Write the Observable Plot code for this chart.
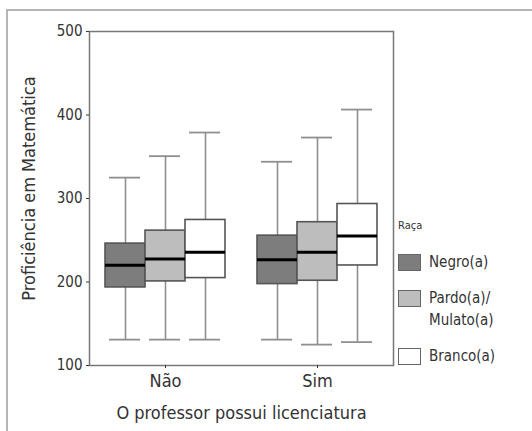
<!DOCTYPE html>
<html><head><meta charset="utf-8">
<script src="https://cdn.jsdelivr.net/npm/d3@7"></script>
<script src="https://cdn.jsdelivr.net/npm/@observablehq/plot@0.6"></script>
<style>
body{margin:0;background:#fff;font-family:"Liberation Sans Narrow","DejaVu Sans Condensed","Roboto",sans-serif;}
#wrap{position:relative;width:532px;height:431px;overflow:hidden;background:#fff;}
#border{position:absolute;left:6px;top:9px;width:800px;height:800px;border-left:2px solid #b5b5b5;border-top:2px solid #b5b5b5;}
#chart{position:absolute;left:0;top:0;}
#legend{position:absolute;left:398px;top:219px;color:#333;}
#legend .title{font-size:11px;margin-bottom:22px;margin-left:0px;}
#legend .row{display:flex;align-items:flex-start;margin-bottom:17px;}
#legend .sw{width:21px;height:15px;border:1.5px solid #666;margin-right:8px;flex:none;}
#legend .lab{font-size:15px;line-height:22px;margin-top:-3px;white-space:pre-line;}
</style></head><body>
<div id="wrap"><div id="border"></div><div id="chart"></div><div id="legend"></div></div>
<script>
const groups = ["Não", "Sim"];
const races = ["Negro(a)", "Pardo(a)/Mulato(a)", "Branco(a)"];
const raceColors = ["#7d7d7d", "#bdbdbd", "#ffffff"];
// order: Não (Negro, Pardo, Branco), Sim (Negro, Pardo, Branco)
const lowerWhisker = [131, 131, 131, 131, 125, 128];
const q1 = [193.5, 200.7, 204.7, 197.5, 201.5, 219.8];
const median = [220.2, 227.4, 235.7, 226.6, 235.7, 255.2];
const q3 = [246, 261.5, 274.3, 255.5, 271.6, 293.4];
const upperWhisker = [325, 350.7, 379, 344, 373, 406.5];
const yTicks = [100, 200, 300, 400, 500];
const yLabel = "Proficiência em Matemática";
const xLabel = "O professor possui licenciatura";
const legendTitle = "Raça";

const data = q1.map((_, i) => ({
  group: groups[Math.floor(i / 3)],
  race: races[i % 3],
  low: lowerWhisker[i], q1: q1[i], median: median[i], q3: q3[i], high: upperWhisker[i]
}));

const font = '"Liberation Sans Narrow","DejaVu Sans Condensed",sans-serif';

const plot = Plot.plot({
  width: 400,
  height: 431,
  marginLeft: 89,
  marginRight: 7,
  marginTop: 31,
  marginBottom: 66,
  style: {fontFamily: font, color: "#333", background: "transparent"},
  fx: {domain: groups, paddingInner: 0, paddingOuter: 0, label: null, axis: null},
  x: {domain: races, paddingInner: 0, paddingOuter: 0.38, axis: null},
  y: {domain: [100, 500], axis: null},
  color: {domain: races, range: raceColors},
  marks: [
    Plot.ruleX(data, {fx: "group", x: "race", y1: "low", y2: "high", stroke: "#8f8f8f", strokeWidth: 1.6}),
    Plot.tickY(data, {fx: "group", x: "race", y: "low", stroke: "#8f8f8f", strokeWidth: 1.8, insetLeft: 4, insetRight: 5}),
    Plot.tickY(data, {fx: "group", x: "race", y: "high", stroke: "#8f8f8f", strokeWidth: 1.8, insetLeft: 4, insetRight: 5}),
    Plot.barY(data, {fx: "group", x: "race", y1: "q1", y2: "q3", fill: "race", stroke: "#555", strokeWidth: 1.6}),
    Plot.tickY(data, {fx: "group", x: "race", y: "median", stroke: "#000", strokeWidth: 3}),
    Plot.frame({facet: "super", stroke: "#777", strokeWidth: 1.5}),
    Plot.axisY({ticks: yTicks, tickSize: 3, tickPadding: 4, fontSize: 15, label: null, tickFormat: d3.format("d")}),
    Plot.axisFx({anchor: "bottom", tickSize: 3, tickPadding: 6, fontSize: 18, label: null}),
    Plot.text([yLabel], {facet: "super", frameAnchor: "left", textAnchor: "middle", rotate: -90, dx: -60, dy: -10, fontSize: 18, fill: "#333"}),
    Plot.text([xLabel], {facet: "super", frameAnchor: "bottom", dy: 53, fontSize: 18, fill: "#333"})
  ]
});
document.getElementById("chart").appendChild(plot);

const legend = document.getElementById("legend");
const t = document.createElement("div");
t.className = "title"; t.textContent = legendTitle;
legend.appendChild(t);
races.forEach((r, i) => {
  const row = document.createElement("div"); row.className = "row";
  const sw = document.createElement("div"); sw.className = "sw"; sw.style.background = raceColors[i];
  const lab = document.createElement("div"); lab.className = "lab"; lab.textContent = r.replace("/", "/\n");
  row.appendChild(sw); row.appendChild(lab); legend.appendChild(row);
});
</script>
</body></html>
